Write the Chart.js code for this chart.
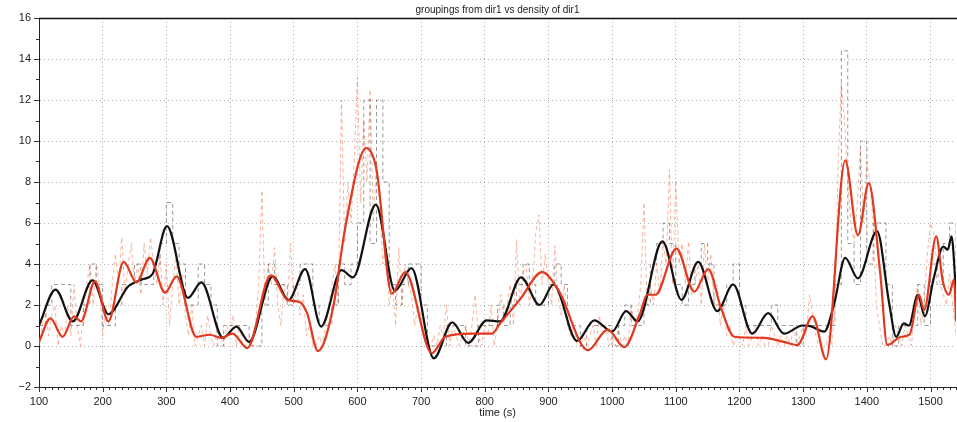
<!DOCTYPE html>
<html>
<head>
<meta charset="utf-8">
<script src="https://cdn.jsdelivr.net/npm/chart.js@4"></script>
<style>
  body { margin: 0; background: #fff; }
</style>
</head>
<body>
<canvas id="myChart" width="957" height="422"></canvas>
<script>
// smoothed curves (key points)
const blackTimes = [100, 126, 153, 184, 209, 240, 262, 278, 301, 334, 355, 389, 410, 430, 467, 492, 518, 543, 575, 593, 629, 659, 685, 720, 749, 774, 803, 824, 857, 886, 908, 945, 972, 1000, 1022, 1040, 1079, 1109, 1135, 1165, 1190, 1220, 1245, 1270, 1299, 1311, 1333, 1349, 1366, 1386, 1416, 1435, 1446, 1458, 1466, 1480, 1491, 1505, 1520, 1527, 1533, 1540];
const blackValues = [1.0, 2.75, 1.2, 3.2, 1.55, 2.9, 3.25, 3.5, 5.85, 2.35, 3.1, 0.4, 0.95, 0.2, 3.4, 2.25, 3.75, 0.95, 3.7, 3.35, 6.9, 2.7, 3.8, -0.6, 1.15, 0.15, 1.25, 1.2, 3.35, 2.0, 3.0, 0.25, 1.25, 0.7, 1.7, 1.2, 5.1, 2.25, 4.1, 1.7, 3.0, 0.6, 1.6, 0.6, 1.0, 0.97, 0.7, 2.1, 4.3, 3.3, 5.6, 2.1, 0.45, 1.1, 1.0, 2.5, 1.45, 3.3, 4.85, 4.7, 5.35, 2.6];

const redTimes = [100, 118, 137, 155, 166, 188, 209, 233, 253, 274, 298, 316, 347, 368, 386, 404, 427, 464, 490, 509, 521, 538, 562, 581, 614, 630, 654, 675, 717, 738, 780, 811, 824, 856, 890, 916, 962, 993, 1019, 1044, 1055, 1068, 1101, 1129, 1151, 1171, 1192, 1239, 1270, 1291, 1315, 1336, 1366, 1386, 1403, 1421, 1432, 1454, 1467, 1482, 1490, 1509, 1519, 1529, 1537, 1540];
const redValues = [0.2, 1.35, 0.45, 1.45, 1.2, 3.15, 1.2, 4.1, 3.1, 4.3, 2.6, 3.4, 0.45, 0.55, 0.4, 0.6, -0.1, 3.45, 2.25, 2.15, 1.6, -0.25, 1.9, 5.8, 9.65, 8.6, 2.55, 3.6, -0.35, 0.45, 0.6, 0.6, 1.1, 2.3, 3.6, 2.7, -0.2, 0.8, -0.05, 1.6, 2.5, 2.5, 4.75, 2.65, 3.75, 1.85, 0.45, 0.4, 0.2, 0.05, 1.45, -0.65, 9.05, 5.4, 7.95, 3.55, 0.05, 0.45, 0.55, 2.5, 1.75, 5.35, 3.2, 2.5, 3.25, 1.2];

// raw groupings (every 10 s, from t = 100)
const groupStart = 100;
const groupStep = 10;
const groupValues = [
  1, 2, 3, 3, 3, 1, 1, 2, 4, 3,
  1, 1, 2, 3, 3, 4, 3, 3, 4, 5,
  7, 5, 4, 2, 2, 4, 3, 2, 0, 1,
  1, 1, 1, 0, 0, 2, 4, 3, 3, 2,
  3, 4, 4, 2, 1, 1, 2, 4, 3, 4,
  6, 12, 5, 12, 8, 3, 2, 3, 4, 4,
  2, 0, 0, 0, 1, 1, 1, 0, 0, 1,
  1, 1, 2, 1, 2, 3, 4, 3, 2, 2,
  3, 4, 3, 1, 1, 0, 1, 1, 1, 1,
  0, 1, 2, 1, 1, 2, 4, 5, 6, 5,
  3, 2, 3, 4, 5, 4, 2, 2, 3, 4,
  2, 1, 1, 1, 1, 2, 1, 1, 1, 0,
  1, 1, 1, 1, 1, 3, 14.4, 5, 3, 10,
  4, 6, 6, 3, 0, 1, 1, 1, 3, 1,
  4, 3, 5, 6, 3
];

// raw density (every 5 s, from t = 100)
const densityStart = 100;
const densityStep = 5;
const densityValues = [
  0, 1, 2, 0.5, 1.5, 2, 0, 1, 0.5, 2, 0.5, 3, 1, 0, 2, 3, 4, 2, 4, 3,
  0.5, 2, 1, 3, 4.5, 3, 5.3, 2.5, 4, 5, 3, 4, 2.5, 5, 3.5, 5.3, 4, 3, 4.5, 2,
  4, 1, 3, 4.5, 2, 3.5, 1.5, 0.5, 2, 0, 0.5, 1, 0, 1.5, 0.5, 0, 1, 0.5, 0, 1,
  0.5, 1.5, 0, 1, 0, 0, 0.5, 0, 1, 3, 7.6, 2, 4, 3, 4.8, 2, 1, 3, 2, 5,
  2, 3, 1.5, 2.5, 0.5, 1, 0, 0, 0.5, 0, 1, 2, 3, 4, 2, 12, 5, 8, 6, 9,
  13.1, 7, 11, 8, 12.5, 6, 9, 7, 4, 5, 2, 3, 1, 4.8, 2, 4, 3, 2.5, 1, 2,
  1.5, 0.5, 0, 0, 0.5, 0, 1, 0.5, 2, 0, 1, 0.5, 0, 0.5, 1, 0, 1, 2.5, 0.5, 0,
  1, 0.5, 2, 0, 1, 2.5, 1.5, 2, 3, 1, 5.2, 2, 3.5, 4, 2, 3, 5.5, 6.4, 3, 4.5,
  3, 2, 4.9, 2.5, 1.5, 3, 1, 0.5, 1, 0, 0, 0.5, 0, 0.5, 1, 0, 1.5, 0.5, 1, 0,
  0.5, 0, 1, 0, 0.5, 0, 2, 1, 1.5, 3, 7, 2, 3, 2, 4, 2.5, 5, 4, 8.6, 3,
  8.1, 4, 5, 3, 5.1, 2.5, 3, 4, 2, 5, 3, 4.5, 2, 3, 1, 2, 0.5, 1, 0, 0.5,
  0.5, 0, 1, 0, 0.5, 1, 0, 0.5, 0, 0, 1, 0.5, 0, 0.5, 0, 0.5, 0, 1, 0, 0.5,
  1, 0.5, 2.5, 1.5, 0.5, 0, 0, 0, 0.5, 0, 2, 9, 12.8, 11, 8, 6, 5, 7, 9.6, 6,
  9, 8, 6, 2, 1, 0, 0, 0.5, 0, 1, 0.5, 0, 1, 0.5, 0, 2, 3, 1, 2, 4.5,
  6, 5.5, 4, 3, 2.5, 2, 3.5, 2, 0.5
];

const xMajorTicks = [100, 200, 300, 400, 500, 600, 700, 800, 900, 1000, 1100, 1200, 1300, 1400, 1500];
const yMajorTicks = [-2, 0, 2, 4, 6, 8, 10, 12, 14, 16];

const toPoints = (xs, ys) => ys.map((v, i) => ({ x: xs[i], y: v }));
const stepPoints = (start, step, ys) => ys.map((v, i) => ({ x: start + i * step, y: v }));

// minor ticks + top frame line
const framePlugin = {
  id: "frame",
  afterDraw(chart) {
    const { ctx, chartArea, scales } = chart;
    const { left, bottom, top } = chartArea;
    ctx.save();
    ctx.strokeStyle = "#333";
    ctx.lineWidth = 1;
    ctx.beginPath();
    for (let t = 100; t <= 1540; t += 10) {
      const px = Math.round(scales.x.getPixelForValue(t)) + 0.5;
      const len = xMajorTicks.includes(t) ? 5 : 3;
      ctx.moveTo(px, bottom);
      ctx.lineTo(px, bottom + len);
    }
    for (let v = -2; v <= 16; v += 1) {
      const py = Math.round(scales.y.getPixelForValue(v)) + 0.5;
      const len = yMajorTicks.includes(v) ? 5 : 3;
      ctx.moveTo(left, py);
      ctx.lineTo(left - len, py);
    }
    ctx.stroke();
    ctx.strokeStyle = "#111";
    ctx.lineWidth = 1.5;
    ctx.beginPath();
    ctx.moveTo(left, Math.round(top) + 0.5);
    ctx.lineTo(chart.width, Math.round(top) + 0.5);
    ctx.stroke();
    ctx.restore();
  },
};

const config = {
  type: "line",
  data: {
    datasets: [
      {
        label: "density (smoothed)",
        data: toPoints(redTimes, redValues),
        borderColor: "#e0391f",
        borderWidth: 2.2,
        cubicInterpolationMode: "monotone",
        pointRadius: 0,
        order: 1,
      },
      {
        label: "groupings (smoothed)",
        data: toPoints(blackTimes, blackValues),
        borderColor: "#111",
        borderWidth: 2.2,
        cubicInterpolationMode: "monotone",
        pointRadius: 0,
        order: 2,
      },
      {
        label: "groupings",
        data: stepPoints(groupStart, groupStep, groupValues),
        borderColor: "rgba(70,70,70,0.6)",
        borderWidth: 0.9,
        borderDash: [4, 3],
        stepped: true,
        pointRadius: 0,
        order: 3,
      },
      {
        label: "density",
        data: stepPoints(densityStart, densityStep, densityValues),
        borderColor: "rgba(242,140,105,0.7)",
        borderWidth: 0.9,
        borderDash: [4, 3],
        tension: 0,
        pointRadius: 0,
        order: 4,
      },
    ],
  },
  options: {
    responsive: false,
    animation: false,
    layout: { padding: { left: 0, right: 1, top: 0, bottom: 0 } },
    plugins: {
      legend: { display: false },
      tooltip: { enabled: false },
      title: {
        display: true,
        text: "groupings from dir1 vs density of dir1",
        fullSize: false,
        color: "#222",
        font: { family: "'Liberation Sans', Arial, sans-serif", size: 10, weight: "normal" },
        padding: { top: 4, bottom: 2 },
      },
    },
    scales: {
      x: {
        type: "linear",
        min: 100,
        max: 1540,
        afterBuildTicks: (scale) => { scale.ticks = xMajorTicks.map((value) => ({ value })); },
        afterFit: (scale) => { scale.height = 35; },
        ticks: {
          color: "#222",
          padding: 8,
          maxRotation: 0,
          font: { family: "'Liberation Sans', Arial, sans-serif", size: 11 },
          callback: (v) => String(v),
        },
        grid: { color: "rgba(0,0,0,0.3)", drawTicks: false, lineWidth: 1 },
        border: { display: true, color: "#222", width: 1, dash: [1, 3] },
        title: {
          display: true,
          text: "time (s)",
          color: "#222",
          padding: { top: 0, bottom: 2 },
          font: { family: "'Liberation Sans', Arial, sans-serif", size: 11 },
        },
      },
      y: {
        min: -2,
        max: 16,
        afterBuildTicks: (scale) => { scale.ticks = yMajorTicks.map((value) => ({ value })); },
        afterFit: (scale) => { scale.width = 39; },
        ticks: {
          color: "#222",
          padding: 8,
          font: { family: "'Liberation Sans', Arial, sans-serif", size: 11 },
          callback: (v) => (v < 0 ? "\u2212" + Math.abs(v) : String(v)),
        },
        grid: { color: "rgba(0,0,0,0.3)", drawTicks: false, lineWidth: 1 },
        border: { display: true, color: "#222", width: 1, dash: [1, 3] },
      },
    },
  },
  plugins: [framePlugin],
};

const myChart = new Chart(document.getElementById("myChart"), config);
</script>
</body>
</html>
